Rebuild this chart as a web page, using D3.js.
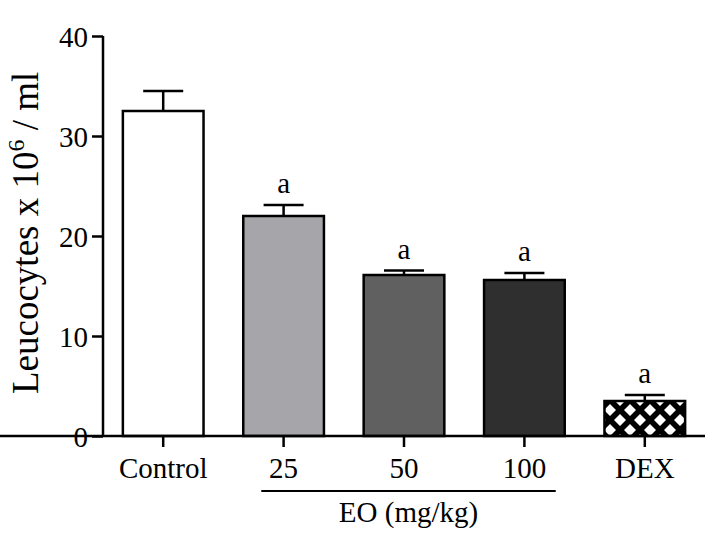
<!DOCTYPE html>
<html>
<head>
<meta charset="utf-8">
<script src="https://cdn.jsdelivr.net/npm/d3@7"></script>
<style>
  body { margin: 0; background: #fff; }
  text { font-family: "Liberation Serif", "Times New Roman", serif; fill: #000; }
</style>
</head>
<body>
<div id="cont"></div>
<script>
// data
var groups = ["Control", "25", "50", "100", "DEX"];
var means = [32.5, 22.0, 16.1, 15.6, 3.5];
var errs = [2.0, 1.1, 0.45, 0.7, 0.6];
var marks = ["", "a", "a", "a", "a"];
var fills = ["#ffffff", "#a6a6aa", "#606060", "#2f2f2f", "url(#hatch)"];
var yTicks = [0, 10, 20, 30, 40];

var svg = d3.select("#cont").append("svg").attr("width", 713).attr("height", 538);

// crosshatch for DEX
var pat = svg.append("defs").append("pattern")
  .attr("id", "hatch").attr("patternUnits", "userSpaceOnUse")
  .attr("width", 20).attr("height", 20);
pat.append("rect").attr("width", 20).attr("height", 20).attr("fill", "#000");
pat.append("path").attr("fill", "#fff")
  .attr("d", "M10,4 L16,10 L10,16 L4,10Z M0,-6 L6,0 L0,6 L-6,0Z M20,-6 L26,0 L20,6 L14,0Z M0,14 L6,20 L0,26 L-6,20Z M20,14 L26,20 L20,26 L14,20Z");

var x = d3.scaleBand().domain(groups).range([103, 705]).paddingInner(0.33).paddingOuter(0.165);
var y = d3.scaleLinear().domain([0, 40]).range([436, 36]);

var bw = x.bandwidth();

// bars
svg.selectAll(".bar").data(groups).enter().append("rect")
  .attr("x", function(d) { return x(d); })
  .attr("y", function(d, i) { return y(means[i]); })
  .attr("width", bw)
  .attr("height", function(d, i) { return y(0) - y(means[i]); })
  .attr("fill", function(d, i) { return fills[i]; })
  .attr("stroke", "#000").attr("stroke-width", 2.5);

// error bars
var eb = svg.selectAll(".err").data(groups).enter().append("g");
eb.append("line")
  .attr("x1", function(d) { return x(d) + bw / 2; })
  .attr("x2", function(d) { return x(d) + bw / 2; })
  .attr("y1", function(d, i) { return y(means[i]); })
  .attr("y2", function(d, i) { return y(means[i] + errs[i]); })
  .attr("stroke", "#000").attr("stroke-width", 2.5);
eb.append("line")
  .attr("x1", function(d) { return x(d) + bw / 2 - 20; })
  .attr("x2", function(d) { return x(d) + bw / 2 + 20; })
  .attr("y1", function(d, i) { return y(means[i] + errs[i]); })
  .attr("y2", function(d, i) { return y(means[i] + errs[i]); })
  .attr("stroke", "#000").attr("stroke-width", 2.5);

// significance letters
svg.selectAll(".mk").data(groups).enter().append("text")
  .attr("x", function(d) { return x(d) + bw / 2; })
  .attr("y", function(d, i) { return y(means[i] + errs[i]) - 12; })
  .attr("text-anchor", "middle").attr("font-size", 29)
  .text(function(d, i) { return marks[i]; });

// axes
var yAxis = svg.append("g").attr("transform", "translate(103,0)")
  .call(d3.axisLeft(y).tickValues(yTicks).tickSize(11).tickPadding(4));
var xAxis = svg.append("g").attr("transform", "translate(0,436)")
  .call(d3.axisBottom(x).tickSize(11).tickPadding(10));
[yAxis, xAxis].forEach(function(a) {
  a.select(".domain").attr("stroke-width", 2.5);
  a.selectAll(".tick line").attr("stroke-width", 2.5);
  a.selectAll("text").attr("font-size", 29).attr("font-family", "Liberation Serif");
});
yAxis.selectAll("text").attr("dy", "0.36em");
yAxis.select(".domain").attr("d", "M0,36V436");
xAxis.select(".domain").attr("d", "M0,0H705");

// group underline + label
svg.append("line")
  .attr("x1", x("25") + 18).attr("x2", x("100") + bw - 9)
  .attr("y1", 491).attr("y2", 491)
  .attr("stroke", "#000").attr("stroke-width", 2);
svg.append("text")
  .attr("x", (x("25") + 18 + x("100") + bw - 9) / 2).attr("y", 522)
  .attr("text-anchor", "middle").attr("font-size", 29)
  .text("EO (mg/kg)");

// y label
var yl = svg.append("text")
  .attr("transform", "translate(38,394) rotate(-90)")
  .attr("text-anchor", "start").attr("font-size", 37);
yl.append("tspan").text("Leucocytes x 10");
yl.append("tspan").attr("dy", -14).attr("font-size", 24).text("6");
yl.append("tspan").attr("dy", 14).text(" / ml");
</script>
</body>
</html>
